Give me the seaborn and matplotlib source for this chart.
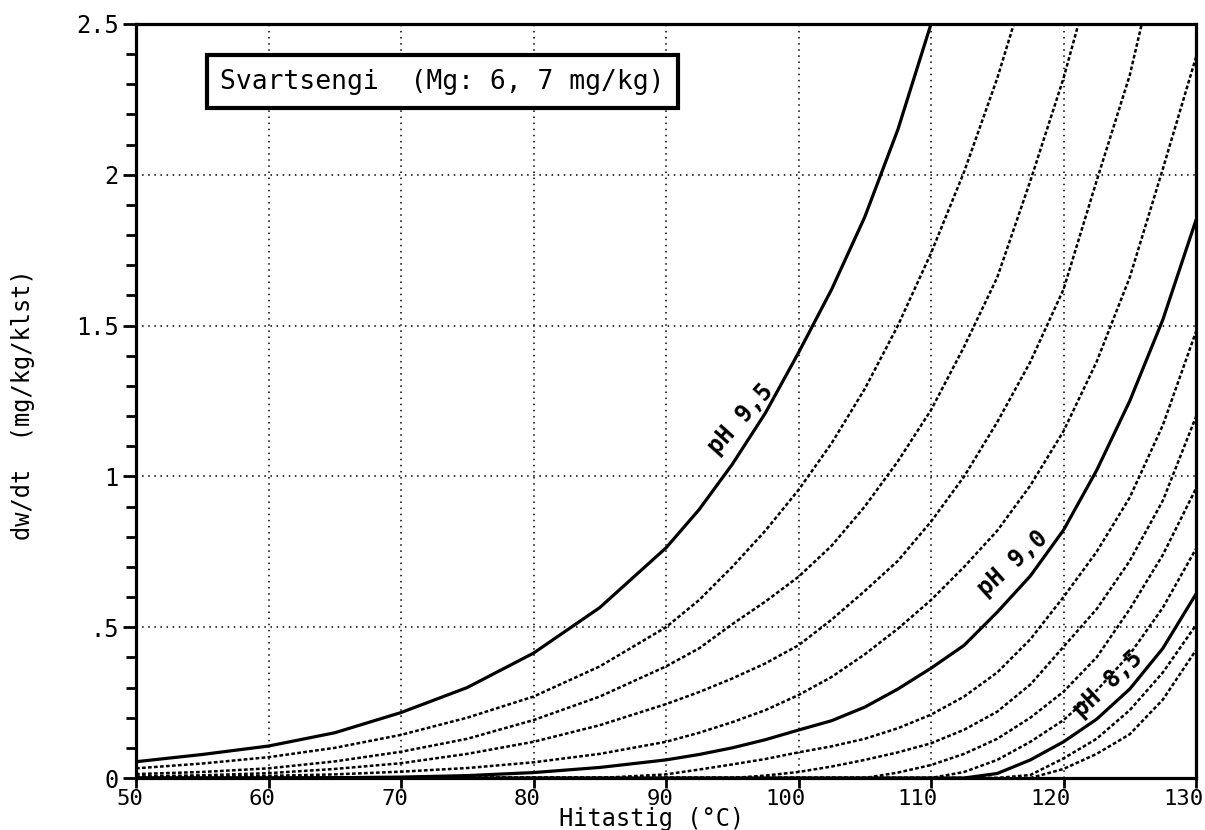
import numpy as np
import pandas as pd
import matplotlib
matplotlib.use("Agg")
import matplotlib.pyplot as plt
import matplotlib.transforms as mtransforms
import seaborn as sns
from matplotlib.ticker import MultipleLocator, FixedLocator

# ---- data ----
nan = np.nan
temps = [50, 55, 60, 65, 70, 75, 80, 85, 90, 92.5, 95, 97.5, 100, 102.5, 105, 107.5,
         110, 112.5, 115, 117.5, 120, 122.5, 125, 127.5, 130]
ph95 = [0.054, 0.078, 0.106, 0.150, 0.217, 0.300, 0.414, 0.565, 0.763, 0.89, 1.04, 1.21, 1.41,
        1.62, 1.86, 2.15, 2.50, nan, nan, nan, nan, nan, nan, nan, nan]
ph94 = [0.032, 0.048, 0.069, 0.100, 0.143, 0.200, 0.270, 0.370, 0.50, 0.59, 0.70, 0.82, 0.955,
        1.11, 1.29, 1.50, 1.74, 2.01, 2.32, 2.68, nan, nan, nan, nan, nan]
ph93 = [0.013, 0.020, 0.032, 0.055, 0.087, 0.130, 0.192, 0.27, 0.37, 0.43, 0.51, 0.585, 0.667,
        0.77, 0.90, 1.05, 1.22, 1.43, 1.66, 1.98, 2.32, 2.72, nan, nan, nan]
ph92 = [0.005, 0.009, 0.016, 0.030, 0.049, 0.080, 0.120, 0.175, 0.245, 0.285, 0.33, 0.38, 0.44,
        0.525, 0.62, 0.72, 0.85, 1.0, 1.18, 1.38, 1.62, 1.98, 2.33, 2.80, nan]
ph91 = [0.002, 0.004, 0.007, 0.012, 0.021, 0.033, 0.052, 0.080, 0.12, 0.15, 0.185, 0.225, 0.275,
        0.335, 0.41, 0.495, 0.59, 0.70, 0.82, 0.97, 1.15, 1.38, 1.66, 2.02, 2.39]
ph90 = [0, 0, 0, 0.001, 0.003, 0.008, 0.018, 0.035, 0.060, 0.078, 0.100, 0.127, 0.159,
        0.19, 0.235, 0.295, 0.364, 0.44, 0.55, 0.67, 0.822, 1.02, 1.25, 1.52, 1.85]
ph89 = [0, 0, 0, 0, 0, 0, 0, 0, 0.012, 0.028, 0.045, 0.063, 0.085,
        0.105, 0.13, 0.165, 0.21, 0.27, 0.35, 0.46, 0.60, 0.75, 0.93, 1.17, 1.48]
ph88 = [0, 0, 0, 0, 0, 0, 0, 0, 0, 0, 0, 0.008, 0.02,
        0.038, 0.06, 0.085, 0.115, 0.16, 0.22, 0.31, 0.435, 0.56, 0.72, 0.92, 1.198]
ph87 = [0, 0, 0, 0, 0, 0, 0, 0, 0, 0, 0, 0, 0,
        0, 0, 0.018, 0.043, 0.08, 0.13, 0.20, 0.286, 0.40, 0.56, 0.74, 0.96]
ph86 = [0, 0, 0, 0, 0, 0, 0, 0, 0, 0, 0, 0, 0,
        0, 0, 0, 0, 0.02, 0.06, 0.12, 0.192, 0.29, 0.41, 0.565, 0.76]
ph85 = [0, 0, 0, 0, 0, 0, 0, 0, 0, 0, 0, 0, 0,
        0, 0, 0, 0, 0, 0.015, 0.06, 0.12, 0.195, 0.295, 0.43, 0.61]
ph84 = [0, 0, 0, 0, 0, 0, 0, 0, 0, 0, 0, 0, 0,
        0, 0, 0, 0, 0, 0, 0.01, 0.065, 0.13, 0.225, 0.35, 0.507]
ph83 = [0, 0, 0, 0, 0, 0, 0, 0, 0, 0, 0, 0, 0,
        0, 0, 0, 0, 0, 0, 0, 0.03, 0.08, 0.145, 0.26, 0.424]

curves = {
    "9.5": ph95, "9.4": ph94, "9.3": ph93, "9.2": ph92, "9.1": ph91,
    "9.0": ph90, "8.9": ph89, "8.8": ph88, "8.7": ph87, "8.6": ph86,
    "8.5": ph85, "8.4": ph84, "8.3": ph83,
}
solid_ph = ["9.5", "9.0", "8.5"]

xticks = [50, 60, 70, 80, 90, 100, 110, 120, 130]
yticks = [0, 0.5, 1.0, 1.5, 2.0, 2.5]
ytick_labels = ["0", ".5", "1", "1.5", "2", "2.5"]
title_text = "Svartsengi  (Mg: 6, 7 mg/kg)"
xlabel = "Hitastig (°C)"
ylabel = "dw/dt  (mg/kg/klst)"
curve_labels = [("pH 9,5", 95.6, 1.19, 48), ("pH 9,0", 116.2, 0.71, 42), ("pH 8,5", 123.4, 0.31, 43)]

# ---- plotting ----
sns.set_theme(style="white")
plt.rcParams["font.family"] = ["DejaVu Sans Mono", "DejaVu Sans"]

W, H = 1205, 830
fig = plt.figure(figsize=(W / 100, H / 100), dpi=100)
ax = fig.add_axes([136 / W, 1 - 778 / H, 1060 / W, 754 / H])

rows = []
for ph, vals in curves.items():
    for t, v in zip(temps, vals):
        rows.append({"T": t, "rate": v, "pH": ph})
df = pd.DataFrame(rows)

for ph in curves:
    sub = df[df["pH"] == ph].dropna()
    if ph in solid_ph:
        sns.lineplot(data=sub, x="T", y="rate", ax=ax, color="black", lw=2.3, zorder=4)
    else:
        sns.lineplot(data=sub, x="T", y="rate", ax=ax, color="black", lw=1.8, zorder=3)
        ax.lines[-1].set_dashes((1.5, 0.9))

ax.set_xlim(50, 130)
ax.set_ylim(0, 2.5)

ax.xaxis.set_major_locator(FixedLocator(xticks))
ax.yaxis.set_major_locator(FixedLocator(yticks))
ax.set_yticklabels(ytick_labels)
ax.yaxis.set_minor_locator(MultipleLocator(0.1))

ax.grid(True, which="major", color="black", linestyle=(0, (1, 3)), linewidth=1.1)
ax.set_axisbelow(True)

for sp in ax.spines.values():
    sp.set_visible(True)
    sp.set_color("black")
    sp.set_linewidth(2.3)

ax.tick_params(axis="x", which="major", direction="out", length=7.2, width=2,
               labelsize=16, color="black", labelcolor="black", pad=1, bottom=True)
ax.tick_params(axis="y", which="major", direction="out", length=9.4, width=2,
               labelsize=17, color="black", labelcolor="black", pad=3, left=True)
ax.tick_params(axis="y", which="minor", direction="out", length=7.2, width=2,
               color="black", left=True)

# x tick labels sit right-aligned just past the tick, as in the reference
offset = mtransforms.ScaledTranslation(7 / 100, 0, fig.dpi_scale_trans)
for lab in ax.get_xticklabels():
    lab.set_horizontalalignment("right")
    lab.set_transform(lab.get_transform() + offset)

ax.set_xlabel("")
fig.text(652 / W, 4 / H, xlabel, fontsize=17, color="black", ha="center", va="baseline")
ax.set_ylabel(ylabel, fontsize=17, color="black")
ax.yaxis.set_label_coords(-0.095, 0.495)

ax.text(0.0792, 0.9237, title_text, transform=ax.transAxes, fontsize=19, color="black",
        ha="left", va="center", zorder=6,
        bbox=dict(boxstyle="square,pad=0.5", facecolor="white", edgecolor="black", linewidth=3))

for txt, tx, ty, rot in curve_labels:
    ax.text(tx, ty, txt, fontsize=17, rotation=rot, ha="center", va="center",
            fontweight="bold", color="black", rotation_mode="anchor", zorder=5)

fig.savefig("out.png", dpi=100, facecolor="white")
